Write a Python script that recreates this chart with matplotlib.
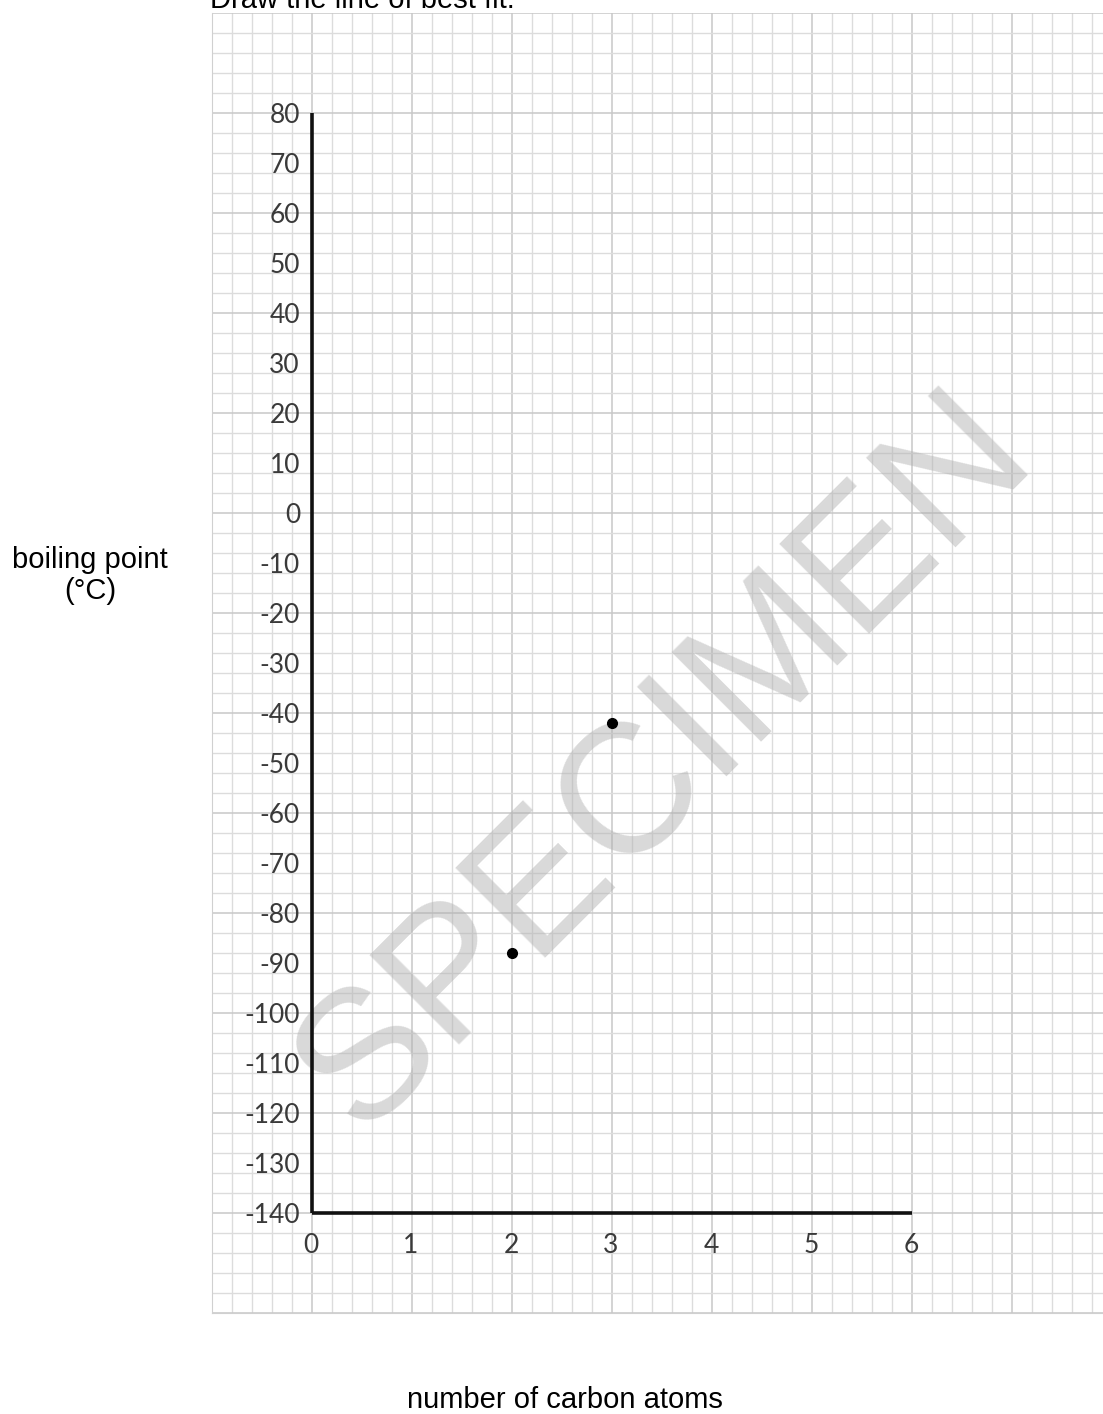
import matplotlib
matplotlib.use('Agg')
import matplotlib.pyplot as plt
from matplotlib.ticker import MultipleLocator

# data
carbon_atoms = [2, 3]
boiling_points = [-88, -42]

x_ticks = [0, 1, 2, 3, 4, 5, 6]
y_ticks = list(range(-140, 81, 10))

W, H = 1103, 1414
fig = plt.figure(figsize=(W / 100, H / 100), dpi=100)

# graph paper area in pixels (left, top, right, bottom)
gl, gt, gr, gb = 212, 13, 1103, 1313
ax = fig.add_axes([gl / W, 1 - gb / H, (gr - gl) / W, (gb - gt) / H])
ax.set_xlim(-1, 7.91)
ax.set_ylim(-160, 100)

ax.xaxis.set_major_locator(MultipleLocator(1))
ax.xaxis.set_minor_locator(MultipleLocator(0.2))
ax.yaxis.set_major_locator(MultipleLocator(20))
ax.yaxis.set_minor_locator(MultipleLocator(4))
ax.grid(True, which='minor', color='#dcdcdc', lw=1.0, zorder=0)
ax.grid(True, which='major', color='#c8c8c8', lw=1.1, zorder=0)
ax.tick_params(which='both', length=0, labelbottom=False, labelleft=False)
for s in ['top', 'right']:
    ax.spines[s].set_visible(False)
for s in ['left', 'bottom']:
    ax.spines[s].set_color('#d0d0d0')
ax.set_axisbelow(True)

# drawn axes
ax.plot([x_ticks[0], x_ticks[-1]], [y_ticks[0], y_ticks[0]], color='#111111', lw=2.6, zorder=3,
        solid_capstyle='butt')
ax.plot([x_ticks[0], x_ticks[0]], [y_ticks[0], y_ticks[-1]], color='#111111', lw=2.6, zorder=3,
        solid_capstyle='butt')

tick_font = dict(family='Lato', fontsize=19, color='#3a3a3a')
for v in y_ticks:
    ax.text(-0.12, v, str(v), ha='right', va='center_baseline', zorder=4, **tick_font)
for v in x_ticks:
    ax.text(v - 0.01, -146, str(v), ha='center', va='center_baseline', zorder=4, **tick_font)

# watermark
ax.text(3.53, -50, 'SPECIMEN', rotation=45, ha='center', va='center',
        family='Liberation Sans', fontsize=132, color='#b0b0b0', alpha=0.48, zorder=2)

ax.plot(carbon_atoms, boiling_points, 'o', color='black', ms=7, zorder=5)

label_font = dict(family='Liberation Sans', fontsize=21, color='black')
fig.text(210 / W, 1 - 8 / H, 'Draw the line of best fit.', ha='left', va='baseline', **label_font)
fig.text(90 / W, 1 - 568 / H, 'boiling point', ha='center', va='baseline', **label_font)
fig.text(90 / W, 1 - 599 / H, '(°C)', ha='center', va='baseline', **label_font)
fig.text(565 / W, 1 - 1408 / H, 'number of carbon atoms', ha='center', va='baseline', **label_font)

fig.savefig('out.png', dpi=100)
